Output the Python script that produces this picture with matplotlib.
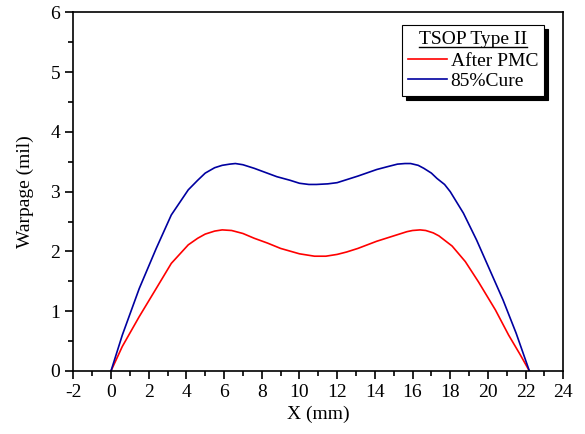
import numpy as np
import matplotlib
matplotlib.use("Agg")
import matplotlib.pyplot as plt
from matplotlib.lines import Line2D
from matplotlib.ticker import MultipleLocator

plt.rcParams['font.family'] = ['Liberation Serif', 'DejaVu Serif']
plt.rcParams['axes.unicode_minus'] = False

# After PMC (red)
x_pmc = [0.0, 0.6, 1.5, 2.4, 3.2, 4.1, 4.6, 5.0, 5.5, 5.9, 6.4, 7.0, 7.6, 8.3,
         9.0, 10.0, 10.8, 11.4, 12.0, 12.5, 13.1, 14.1, 15.2, 15.7, 16.0,
         16.4, 16.7, 17.1, 17.4, 18.1, 18.8, 19.5, 20.4, 21.1, 21.7, 22.2]
y_pmc = [0.0, 0.41, 0.91, 1.38, 1.80, 2.11, 2.22, 2.29, 2.34, 2.36, 2.35, 2.30,
         2.22, 2.14, 2.05, 1.96, 1.92, 1.92, 1.95, 1.99, 2.05, 2.17, 2.28, 2.33,
         2.35, 2.36, 2.35, 2.31, 2.26, 2.09, 1.83, 1.49, 1.02, 0.60, 0.28, 0.0]

# 85% Cure (blue)
x_cure = [0.0, 0.6, 1.5, 2.4, 3.2, 4.1, 4.6, 5.0, 5.5, 5.9, 6.3, 6.6, 7.0,
          7.6, 8.2, 8.8, 9.5, 10.0, 10.5, 10.9, 11.5, 12.0, 12.5, 13.1, 14.1,
          14.7, 15.2, 15.6, 15.9, 16.3, 16.6, 17.0, 17.3, 17.7, 18.0, 18.7,
          19.4, 20.1, 20.8, 21.5, 22.2]
y_cure = [0.0, 0.60, 1.38, 2.05, 2.61, 3.03, 3.19, 3.31, 3.40, 3.44, 3.46, 3.47,
          3.45, 3.39, 3.32, 3.25, 3.19, 3.14, 3.12, 3.12, 3.13, 3.15, 3.20, 3.26,
          3.37, 3.42, 3.46, 3.47, 3.47, 3.44, 3.39, 3.31, 3.22, 3.12, 3.00, 2.64,
          2.19, 1.69, 1.19, 0.63, 0.0]

fig = plt.figure(figsize=(5.85, 4.34), dpi=100)
ax = fig.add_axes([0.1253, 0.1452, 0.8376, 0.8265])

ax.plot(x_pmc, y_pmc, color='#ff0000', lw=1.2, label='After PMC')
ax.plot(x_cure, y_cure, color='#0000a0', lw=1.2, label='85%Cure')

ax.set_xlim(-2, 24)
ax.set_ylim(0, 6)
ax.xaxis.set_major_locator(MultipleLocator(2))
ax.xaxis.set_minor_locator(MultipleLocator(1))
ax.yaxis.set_major_locator(MultipleLocator(1))
ax.yaxis.set_minor_locator(MultipleLocator(0.5))
ax.tick_params(which='both', direction='out', width=1.2, labelsize=14, pad=4)
ax.tick_params(which='major', length=5.5)
ax.tick_params(which='minor', length=3.5)
for s in ax.spines.values():
    s.set_linewidth(1.2)

ax.set_xlabel('X (mm)', fontsize=14, labelpad=3)
ax.set_ylabel('Warpage (mil)', fontsize=14, labelpad=12)

leg = ax.legend(title='TSOP Type II', loc='upper right',
                bbox_to_anchor=(0.9604, 0.9646), fontsize=14, title_fontsize=14,
                frameon=True, fancybox=False, framealpha=1, edgecolor='black',
                shadow={'ox': 3, 'oy': -3, 'color': 'black', 'alpha': 1},
                handlelength=2.0, handletextpad=0.2, borderpad=0.3,
                labelspacing=0.15, borderaxespad=0)
leg.get_frame().set_linewidth(0.8)
leg._legend_box.sep = 3

fig.canvas.draw()
tb = leg.get_title().get_window_extent().transformed(fig.transFigure.inverted())
fig.add_artist(Line2D([tb.x0, tb.x1], [tb.y0 + 0.003, tb.y0 + 0.003],
                      transform=fig.transFigure, color='black', lw=1.0))

fig.savefig('out.png', dpi=100)
